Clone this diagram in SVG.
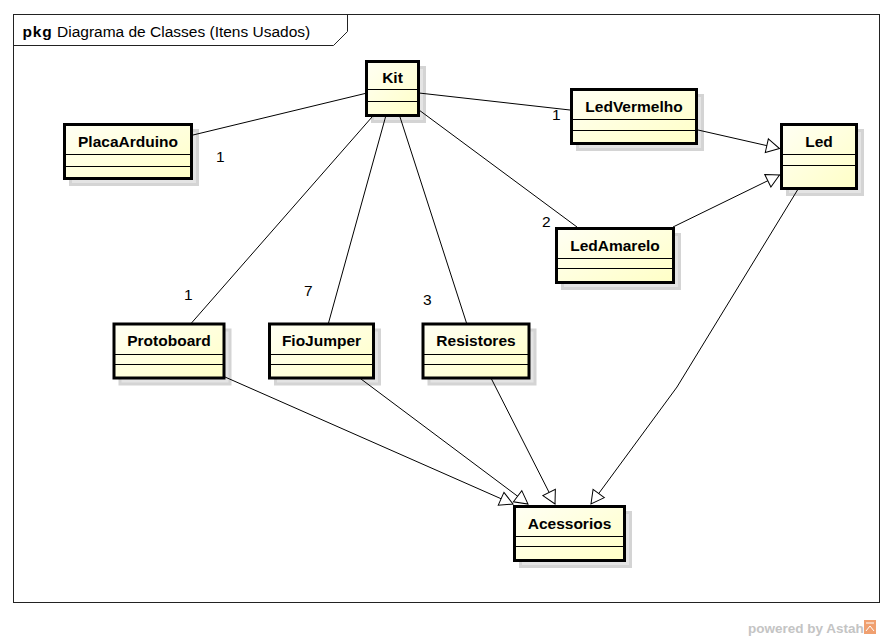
<svg xmlns="http://www.w3.org/2000/svg" width="893" height="641" viewBox="0 0 893 641">
<defs>
<linearGradient id="fillG" x1="0" y1="0" x2="1" y2="1">
<stop offset="0" stop-color="#fffff4"/>
<stop offset="1" stop-color="#ffffc6"/>
</linearGradient>
<marker id="gen" markerUnits="userSpaceOnUse" markerWidth="16" markerHeight="16" refX="13" refY="7" orient="auto" overflow="visible">
<path d="M0,0 L13,7 L0,14 Z" fill="#ffffff" stroke="#000000" stroke-width="1"/>
</marker>
</defs>
<style>
.frame{fill:#ffffff;stroke:#222222;stroke-width:1}
.shadow{fill:#e4e4e4;stroke:#d4d4d4;stroke-width:3}
.box{fill:url(#fillG);stroke:#000000;stroke-width:3}
.div{stroke:#000000;stroke-width:1}
.title{font-family:"Liberation Sans",Arial,sans-serif;font-size:15.5px;font-weight:bold;fill:#000000;text-anchor:middle}
.conn line,.conn polyline{stroke:#000000;stroke-width:1;fill:none}
.mult{font-family:"Liberation Sans",Arial,sans-serif;font-size:15.5px;fill:#000000}
.pkg{font-family:"Liberation Sans",Arial,sans-serif;font-size:15.5px;fill:#000000}
.wm{font-family:"Liberation Sans",Arial,sans-serif;font-size:13.5px;font-weight:bold;fill:#c4c4c4}
</style>
<rect x="0" y="0" width="893" height="641" fill="#ffffff"/>
<g id="frame">
<rect class="frame" x="13.5" y="14.5" width="866" height="588"/>
<path d="M13.5,45.5 L333.5,45.5 L347.5,31.5 L347.5,14.5" fill="none" stroke="#222222" stroke-width="1"/>
<text class="pkg" x="22.5" y="37" font-weight="bold" font-size="16" letter-spacing="0.8">pkg</text>
<text class="pkg" x="57" y="37">Diagrama de Classes (Itens Usados)</text>
</g>
<g id="Kit">
<rect class="shadow" x="372.5" y="67.5" width="52" height="54"/>
<rect class="box" x="366.5" y="61.5" width="52" height="54"/>
<line class="div" x1="366.5" y1="89.5" x2="418.5" y2="89.5"/>
<line class="div" x1="366.5" y1="101.5" x2="418.5" y2="101.5"/>
<text class="title" x="392.5" y="83">Kit</text>
</g>
<g id="PlacaArduino">
<rect class="shadow" x="70.5" y="130.5" width="127" height="54"/>
<rect class="box" x="64.5" y="124.5" width="127" height="54"/>
<line class="div" x1="64.5" y1="154.5" x2="191.5" y2="154.5"/>
<line class="div" x1="64.5" y1="166.5" x2="191.5" y2="166.5"/>
<text class="title" x="128" y="147">PlacaArduino</text>
</g>
<g id="LedVermelho">
<rect class="shadow" x="577.5" y="95.5" width="125" height="54"/>
<rect class="box" x="571.5" y="89.5" width="125" height="54"/>
<line class="div" x1="571.5" y1="119.5" x2="696.5" y2="119.5"/>
<line class="div" x1="571.5" y1="130.5" x2="696.5" y2="130.5"/>
<text class="title" x="634" y="112">LedVermelho</text>
</g>
<g id="Led">
<rect class="shadow" x="787.5" y="130.5" width="75" height="64"/>
<rect class="box" x="781.5" y="124.5" width="75" height="64"/>
<line class="div" x1="781.5" y1="154.5" x2="856.5" y2="154.5"/>
<line class="div" x1="781.5" y1="165.5" x2="856.5" y2="165.5"/>
<text class="title" x="819" y="147">Led</text>
</g>
<g id="LedAmarelo">
<rect class="shadow" x="562.5" y="234.5" width="117" height="54"/>
<rect class="box" x="556.5" y="228.5" width="117" height="54"/>
<line class="div" x1="556.5" y1="258.5" x2="673.5" y2="258.5"/>
<line class="div" x1="556.5" y1="268.5" x2="673.5" y2="268.5"/>
<text class="title" x="615" y="251">LedAmarelo</text>
</g>
<g id="Protoboard">
<rect class="shadow" x="120" y="330" width="110" height="54"/>
<rect class="box" x="114" y="324" width="110" height="54"/>
<line class="div" x1="114" y1="354.5" x2="224" y2="354.5"/>
<line class="div" x1="114" y1="364.5" x2="224" y2="364.5"/>
<text class="title" x="169" y="346">Protoboard</text>
</g>
<g id="FioJumper">
<rect class="shadow" x="275.5" y="330" width="104" height="54"/>
<rect class="box" x="269.5" y="324" width="104" height="54"/>
<line class="div" x1="269.5" y1="354.5" x2="373.5" y2="354.5"/>
<line class="div" x1="269.5" y1="364.5" x2="373.5" y2="364.5"/>
<text class="title" x="321.5" y="346">FioJumper</text>
</g>
<g id="Resistores">
<rect class="shadow" x="429" y="330" width="106" height="54"/>
<rect class="box" x="423" y="324" width="106" height="54"/>
<line class="div" x1="423" y1="354.5" x2="529" y2="354.5"/>
<line class="div" x1="423" y1="364.5" x2="529" y2="364.5"/>
<text class="title" x="476" y="346">Resistores</text>
</g>
<g id="Acessorios">
<rect class="shadow" x="520.5" y="512.5" width="110" height="54"/>
<rect class="box" x="514.5" y="506.5" width="110" height="54"/>
<line class="div" x1="514.5" y1="536.5" x2="624.5" y2="536.5"/>
<line class="div" x1="514.5" y1="546.5" x2="624.5" y2="546.5"/>
<text class="title" x="569.5" y="529">Acessorios</text>
</g>
<g id="connectors" class="conn">
<line x1="365" y1="93.5" x2="193" y2="135"/>
<line x1="419" y1="93" x2="570" y2="110"/>
<line x1="419" y1="110" x2="577" y2="227"/>
<line x1="372" y1="117" x2="191.5" y2="323"/>
<line x1="385.5" y1="117" x2="328.5" y2="323"/>
<line x1="400" y1="117" x2="466.5" y2="323"/>
<line x1="698" y1="130" x2="779.5" y2="148.5" marker-end="url(#gen)"/>
<line x1="673" y1="227" x2="779.5" y2="175" marker-end="url(#gen)"/>
<polyline points="797.5,190 677,387 591,504" marker-end="url(#gen)"/>
<line x1="225" y1="377" x2="513" y2="504" marker-end="url(#gen)"/>
<line x1="361" y1="379" x2="528" y2="504" marker-end="url(#gen)"/>
<line x1="491.5" y1="379" x2="555" y2="504" marker-end="url(#gen)"/>
<text class="mult" x="216" y="162">1</text>
<text class="mult" x="552" y="120">1</text>
<text class="mult" x="542" y="227">2</text>
<text class="mult" x="184" y="300">1</text>
<text class="mult" x="304" y="296">7</text>
<text class="mult" x="423" y="305">3</text>
</g>
<g id="watermark">
<text class="wm" x="748" y="633">powered by Astah</text>
<rect x="864" y="620" width="12" height="14" fill="#f0a070"/>
<path d="M866,623 L874,623 M866,631 L870,626 L874,631" stroke="#ffffff" stroke-width="1" fill="none"/>
</g>
</svg>
